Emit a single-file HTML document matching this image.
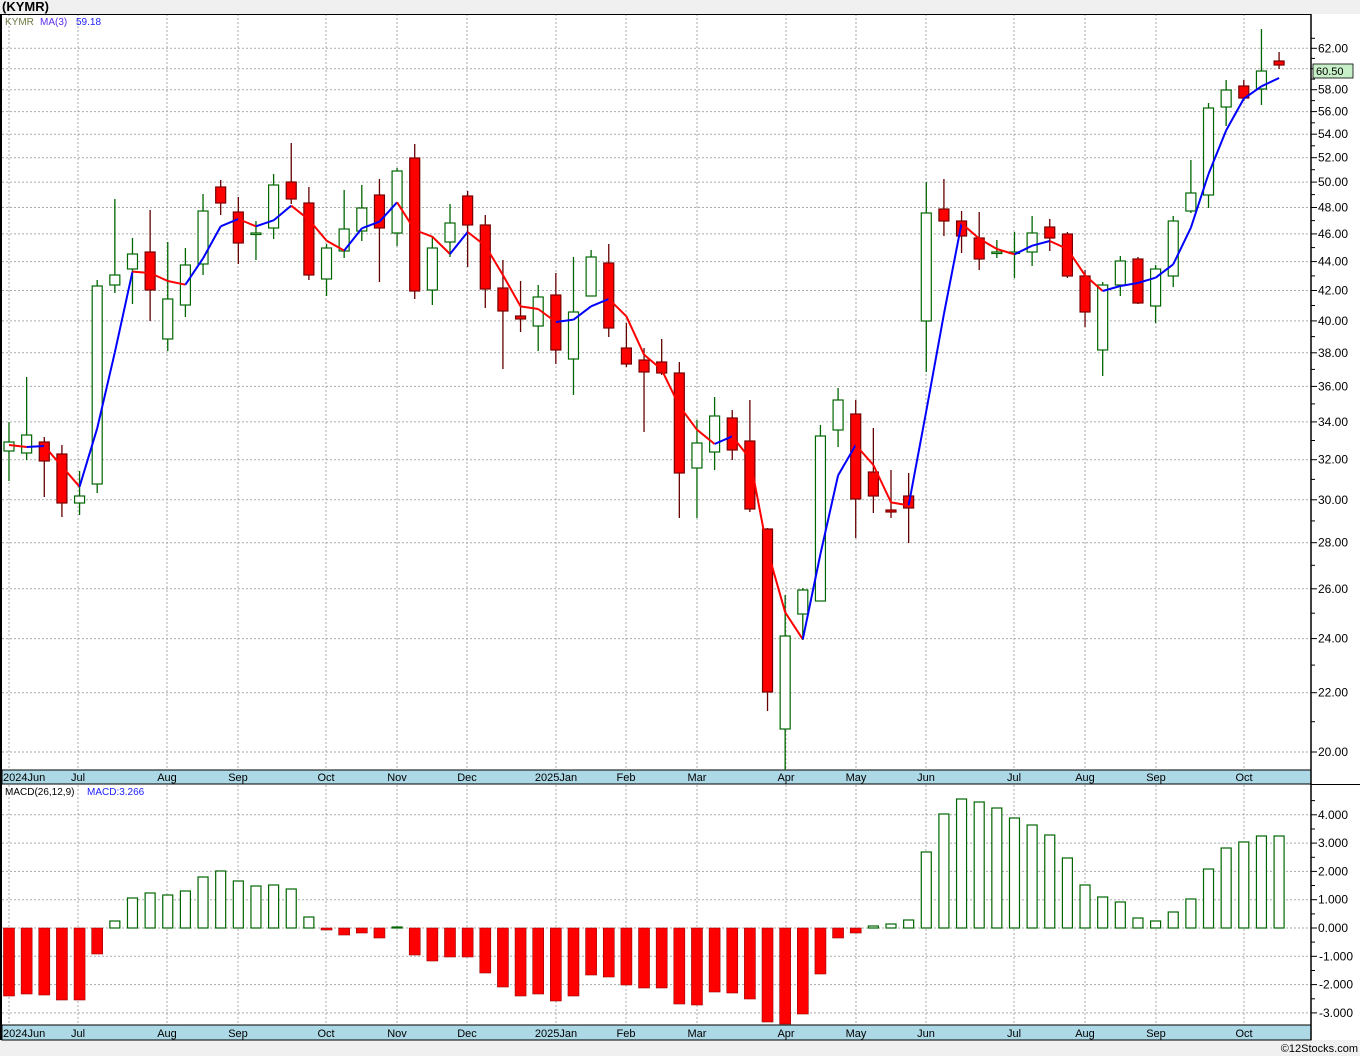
<!DOCTYPE html>
<html><head><meta charset="utf-8"><style>
html,body{margin:0;padding:0;background:#f0f0f0;}
svg{display:block;font-family:"Liberation Sans",sans-serif;}
</style></head><body>
<svg id="c" width="1360" height="1056" xmlns="http://www.w3.org/2000/svg"></svg>
<script>
const S=document.getElementById('c');let h='';
const py=p=>752-622*Math.log(p/20);
h+='<rect x="0" y="0" width="1360" height="1056" fill="#f0f0f0"/>';
h+='<rect x="2" y="14" width="1358" height="1026" fill="#fff"/>';
h+='<text x="2" y="11" font-size="13" font-weight="bold" fill="#000">(KYMR)</text>';
const months=[[9,'2024Jun'],[78,'Jul'],[167,'Aug'],[238,'Sep'],[326,'Oct'],[397,'Nov'],[467,'Dec'],[556,'2025Jan'],[626,'Feb'],[697,'Mar'],[786,'Apr'],[856,'May'],[926,'Jun'],[1014,'Jul'],[1085,'Aug'],[1156,'Sep'],[1244,'Oct']];
for(let p=20;p<=62;p+=2){const y=py(p).toFixed(1);h+=`<line x1="2" x2="1311" y1="${y}" y2="${y}" stroke="#aaa" stroke-dasharray="2,2"/>`;
h+=`<line x1="1311" x2="1317" y1="${y}" y2="${y}" stroke="#000"/><text x="1318" y="${+y+4}" font-size="12" fill="#000">${p.toFixed(2)}</text>`;}
for(let p=21;p<=63;p+=2){const y=py(p).toFixed(1);h+=`<line x1="1311" x2="1315" y1="${y}" y2="${y}" stroke="#000"/>`;}
const my=v=>928-28.3*v;
for(let v=-3;v<=4;v++){const y=my(v).toFixed(1);h+=`<line x1="2" x2="1311" y1="${y}" y2="${y}" stroke="#aaa" stroke-dasharray="2,2"/>`;
h+=`<line x1="1311" x2="1317" y1="${y}" y2="${y}" stroke="#000"/><text x="${v<0?1319:1318}" y="${+y+4}" font-size="12" fill="#000">${v.toFixed(3)}</text>`;
const y2=my(v+0.5).toFixed(1);h+=`<line x1="1311" x2="1315" y1="${y2}" y2="${y2}" stroke="#000"/>`;}
months.forEach(([x])=>{h+=`<line x1="${x}" x2="${x}" y1="14" y2="770" stroke="#aaa" stroke-dasharray="2,2"/><line x1="${x}" x2="${x}" y1="785" y2="1025" stroke="#aaa" stroke-dasharray="2,2"/>`;});
[[770,784],[1025,1040]].forEach(([a,b])=>{h+=`<rect x="2" y="${a}" width="1309" height="${b-a}" fill="#add8e6" stroke="#000"/>`;
months.forEach(([x,t])=>{if(t[0]=='2'&&x<20)h+=`<text x="3" y="${b-3}" font-size="11" fill="#000">${t}</text>`;else h+=`<text x="${x}" y="${b-3}" font-size="11" text-anchor="middle" fill="#000">${t}</text>`;});});
const C=[[422,481,442,451,0],[377,460,435,453,0],[437,497,442,461,1],[445,517,454,503,1],[471,515,496,503,0],[280,493,286,484,0],[199,293,275,285,0],[238,304,254,269,0],[210,321,252,290,1],[242,351,299,339,0],[248,317,265,305,0],[194,275,211,264,0],[180,215,187,203,1],[197,264,212,243,1],[221,260,233,234,0],[174,239,185,228,0],[143,204,182,199,1],[187,280,203,275,1],[244,296,248,279,0],[190,258,229,251,0],[185,241,208,231,0],[179,282,195,228,1],[168,246,171,233,0],[144,299,158,291,1],[236,305,248,290,0],[204,257,223,242,0],[191,267,196,225,1],[215,308,225,289,1],[260,369,288,311,1],[281,332,316,319,1],[285,351,297,326,0],[273,364,295,350,1],[257,395,312,359,0],[250,296,257,296,0],[244,337,263,328,1],[323,367,348,364,1],[348,432,360,372,1],[339,375,362,373,1],[362,518,373,473,1],[420,518,443,468,0],[397,470,416,452,0],[410,460,418,450,1],[400,512,441,509,1],[528,711,529,692,1],[595,770,636,729,0],[588,640,590,614,0],[425,601,436,601,0],[388,447,400,430,0],[400,538,414,499,1],[428,513,472,496,1],[470,518,510,512,1],[473,543,496,508,1],[182,372,213,321,0],[179,236,209,221,1],[211,253,221,236,1],[212,270,238,259,1],[240,258,252,253,0],[232,278,252,253,0],[216,266,233,252,0],[219,251,227,238,1],[232,278,234,276,1],[270,327,276,312,1],[282,376,285,350,0],[256,296,261,285,0],[257,304,259,303,1],[265,323,269,306,0],[216,287,221,276,0],[160,213,193,211,0],[103,208,108,195,0],[80,126,90,107,0],[80,101,86,98,1],[29,105,71,89,0],[52,69,61,65,1]];
const X=i=>9+i*17.64;
const M=[996,994,995,1000,1000,954,921,898,893,895,891,877,871,881,886,885,889,917,930,935,933,938,927,955,961,957,957,973,987,996,994,1001,996,975,977,985,988,988,1004,1005,992,993,999,1022,1024,1014,974,938,933,926,924,920,852,814,799,802,808,818,825,835,858,885,897,902,918,921,912,899,869,848,842,836,836];
M.forEach((v,i)=>{const x=X(i)-5.5;if(v>928){h+=`<rect x="${x}" y="928" width="11" height="${v-928}" fill="#f00" stroke="#900" stroke-width="0.6"/>`;}else{h+=`<rect x="${x+0.5}" y="${v}" width="10" height="${928-v}" fill="#fff" stroke="#060" stroke-width="1.2"/>`;}});
C.forEach((c,i)=>{const x=X(i);const[H,L,t,b,r]=c;const col=r?'#600':'#060';
h+=`<line x1="${x}" x2="${x}" y1="${H}" y2="${L}" stroke="${col}" stroke-width="1.3"/>`;
const hh=Math.max(b-t,1.5);
h+=`<rect x="${x-5}" y="${t}" width="10" height="${hh}" fill="${r?'#f00':'#fff'}" stroke="${r?'#700':'#060'}" stroke-width="1.2"/>`;});
const cl=C.map(c=>c[4]?c[3]:c[2]);
const ma=cl.map((v,i)=>i<2?445+i*2:(cl[i]+cl[i-1]+cl[i-2])/3);
for(let i=1;i<ma.length;i++){const col=ma[i]>=ma[i-1]?'#f00':'#00f';
h+=`<line x1="${X(i-1)}" x2="${X(i)}" y1="${ma[i-1]}" y2="${ma[i]}" stroke="${col}" stroke-width="2"/>`;}
h+='<line x1="1311" x2="1311" y1="14" y2="1040" stroke="#000" stroke-width="1.5"/>';
h+='<line x1="1" x2="1" y1="14" y2="1040" stroke="#000" stroke-width="2"/>';
h+='<line x1="0" x2="1311" y1="14.5" y2="14.5" stroke="#000"/>';
h+='<line x1="1311" x2="1360" y1="784.5" y2="784.5" stroke="#000"/>';
h+='<rect x="1313" y="64" width="40" height="14" fill="#c8f0c8" stroke="#000" stroke-width="0.8"/><text x="1316" y="75" font-size="11" fill="#000">60.50</text>';
h+='<text x="5" y="25" font-size="10" fill="#6a7a40">KYMR</text><text x="40" y="25" font-size="10" fill="#5a2cf0">MA(3)</text><text x="76" y="25" font-size="10" fill="#2020ff">59.18</text>';
h+='<text x="5" y="795" font-size="10" fill="#000">MACD(26,12,9)</text><text x="87" y="795" font-size="10" fill="#2020ff">MACD:3.266</text>';
h+='<text x="1358" y="1052" font-size="11" text-anchor="end" fill="#000">©12Stocks.com</text>';
S.innerHTML=h;
</script>
</body></html>
